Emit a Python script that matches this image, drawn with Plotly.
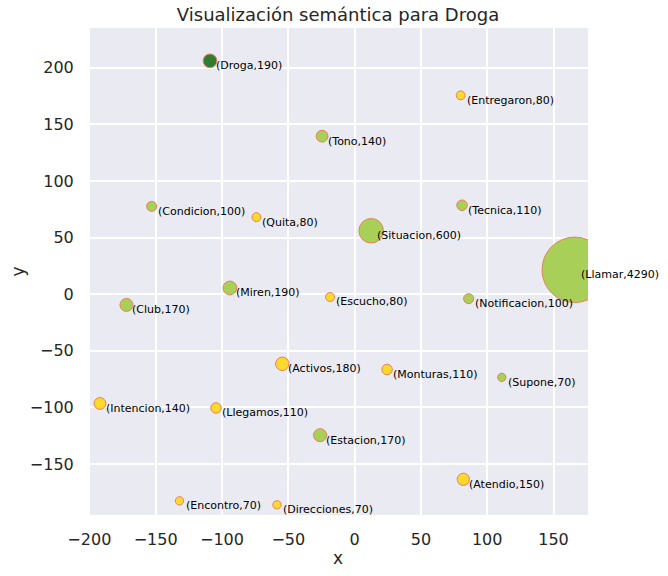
import plotly.graph_objects as go

# datos
palabras = ["Droga", "Entregaron", "Tono", "Condicion", "Quita", "Situacion", "Tecnica",
            "Llamar", "Miren", "Escucho", "Notificacion", "Club", "Activos", "Monturas",
            "Supone", "Intencion", "Llegamos", "Estacion", "Atendio", "Encontro", "Direcciones"]
xs = [-109, 80, -24.5, -153, -74, 12.5, 81, 166, -94, -18.5, 86, -172, -54.5, 24.5,
      111, -192, -104.5, -26, 82, -132, -58.5]
ys = [206, 175.5, 139.5, 77.5, 68, 56, 78.5, 21.5, 5.5, -2.5, -4, -9.5, -61.5, -66.5,
      -73.5, -96.5, -100.5, -124.5, -163.5, -182.5, -186]
frecuencias = [190, 80, 140, 100, 80, 600, 110, 4290, 190, 80, 100, 170, 180, 110,
               70, 140, 110, 170, 150, 70, 70]
grupos = ["centro", "b", "a", "a", "b", "a", "a", "a", "a", "b", "a", "a", "b", "b",
          "a", "b", "b", "a", "b", "b", "b"]

colores = {"centro": "#2e7d32", "a": "#a8d058", "b": "#fdd92b"}

fig = go.Figure(go.Scatter(
    x=xs, y=ys, mode="markers",
    marker=dict(size=[f ** 0.5 for f in frecuencias],
                color=[colores[g] for g in grupos],
                line=dict(color="#e8805a", width=1), opacity=1),
    hoverinfo="skip", showlegend=False, cliponaxis=True,
))

for p, x, y, f in zip(palabras, xs, ys, frecuencias):
    fig.add_annotation(x=x, y=y, text="(%s,%d)" % (p, f), showarrow=False,
                       xanchor="left", yanchor="middle", xshift=4, yshift=-5,
                       font=dict(family="DejaVu Sans", size=11, color="black"))

grid = dict(showgrid=True, gridcolor="white", gridwidth=1.5, zeroline=False,
            showline=False, ticks="outside", ticklen=10, tickcolor="rgba(0,0,0,0)",
            automargin=False,
            tickfont=dict(family="DejaVu Sans", size=16, color="#262626"),
            title_font=dict(family="DejaVu Sans", size=17, color="#262626"))

fig.update_layout(
    width=668, height=576,
    margin=dict(l=88, r=80, t=28, b=61),
    paper_bgcolor="white", plot_bgcolor="#eaeaf2",
    title=dict(text="Visualización semántica para Droga", x=(88 + 250) / 668, xanchor="center",
               y=1 - 15 / 576, yanchor="middle",
               font=dict(family="DejaVu Sans", size=18, color="#262626")),
    xaxis=dict(range=[-201, 176], tickvals=[-200, -150, -100, -50, 0, 50, 100, 150],
               ticktext=["\u2212200", "\u2212150", "\u2212100", "\u221250", "0", "50", "100", "150"],
               title=dict(text="x", standoff=3), **grid),
    yaxis=dict(range=[-195, 235], tickvals=[-150, -100, -50, 0, 50, 100, 150, 200],
               ticktext=["\u2212150", "\u2212100", "\u221250", "0", "50", "100", "150", "200"],
               title=dict(text="y", standoff=0), **grid),
)

# sin el margen por defecto del navegador ni la barra de herramientas
fig.write_html("out.html", config={"displayModeBar": False},
               post_script="document.body.style.margin = '0';")
